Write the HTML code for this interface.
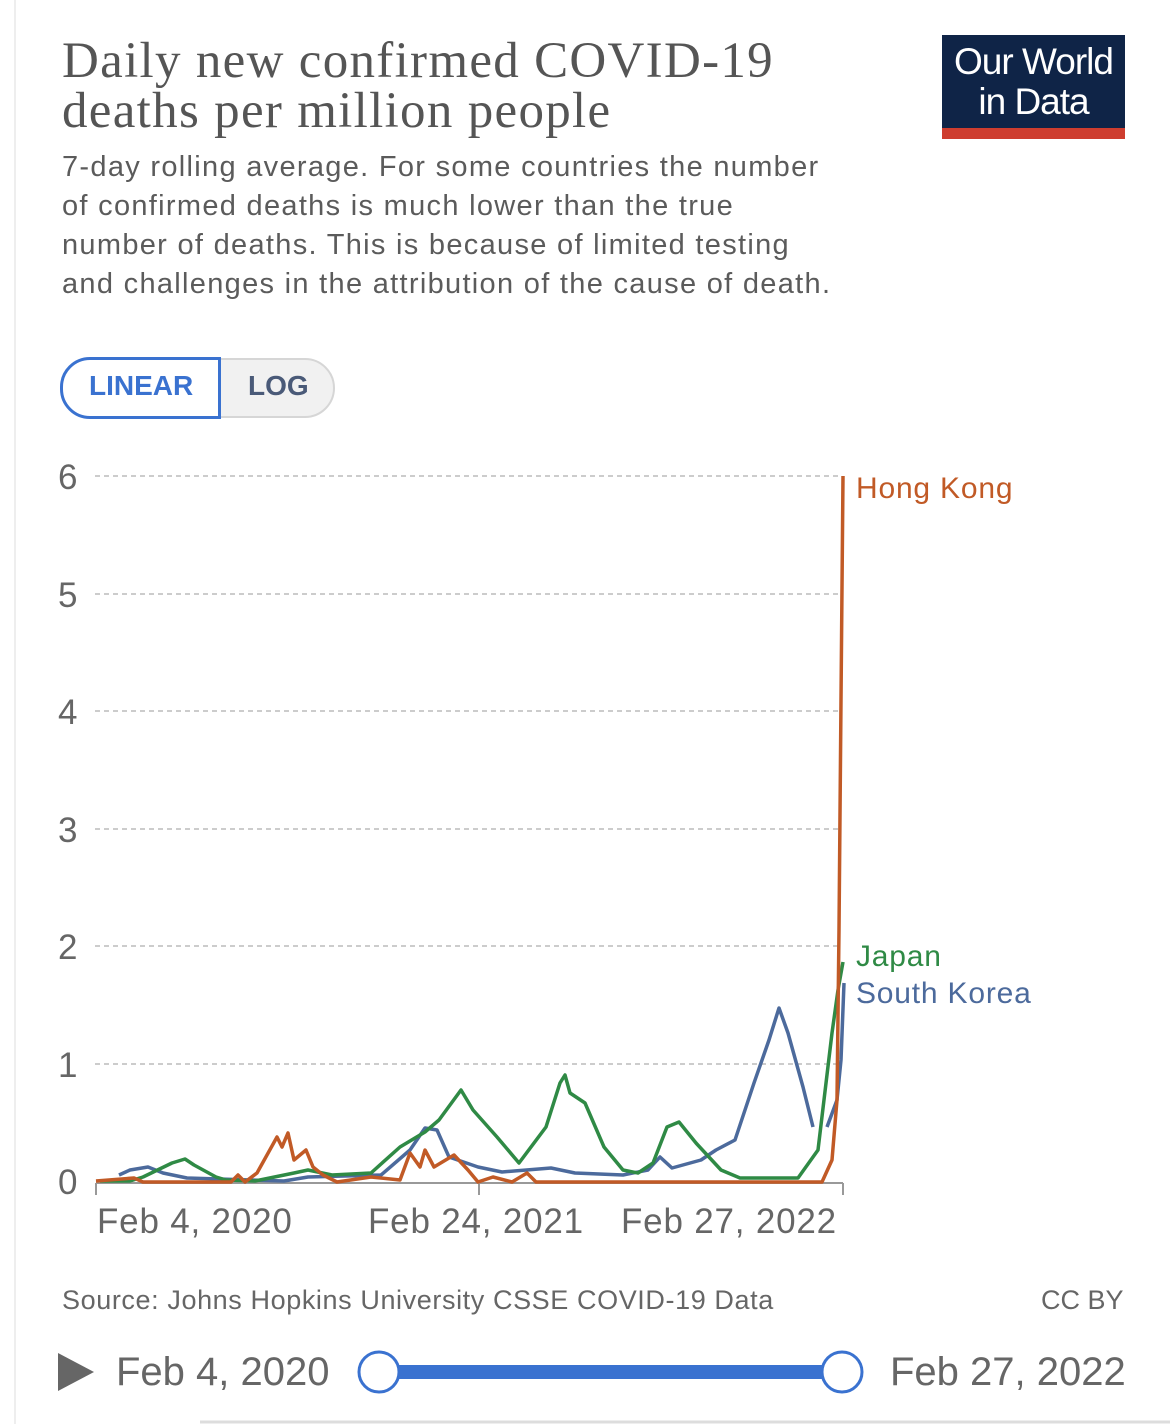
<!DOCTYPE html>
<html><head><meta charset="utf-8"><style>
body{margin:0;width:1170px;height:1424px;background:#fff;position:relative;overflow:hidden;font-family:"Liberation Sans",sans-serif}
.a{position:absolute;white-space:nowrap}
.t{font-family:"Liberation Serif",serif;font-size:51px;color:#555;line-height:50px;left:62px;top:36px;letter-spacing:1.3px}
.s{left:62px;top:148px;font-size:29px;line-height:39px;color:#5b5b5b;letter-spacing:1.3px}
.yl{font-size:35px;color:#666;left:58px}
.xl{font-size:35px;color:#666;top:1202px;letter-spacing:0.8px}
</style></head><body>
<div class="a" style="left:14px;top:0;width:2px;height:1424px;background:#eee"></div>
<div class="a t">Daily new confirmed COVID-19<br>deaths per million people</div>
<div class="a s">7-day rolling average. For some countries the number<br>of confirmed deaths is much lower than the true<br>number of deaths. This is because of limited testing<br>and challenges in the attribution of the cause of death.</div>
<div class="a" style="left:942px;top:35px;width:183px;height:104px;background:#0f2447"></div>
<div class="a" style="left:942px;top:128px;width:183px;height:11px;background:#ce3d2f"></div>
<div class="a" style="left:942px;top:42px;width:183px;text-align:center;color:#fff;font-size:37px;line-height:40px;letter-spacing:-1px">Our World<br>in Data</div>
<div class="a" style="left:61px;top:358px;width:270px;height:56px;border:2px solid #d6d6d6;border-radius:30px;background:#f1f1f1"></div>
<div class="a" style="left:61px;top:358px;width:155px;height:56px;border:3px solid #3a72d0;border-radius:30px 0 0 30px;background:#fff;box-sizing:content-box;margin:-1px 0 0 -1px"></div>
<div class="a" style="left:89px;top:370px;font-size:28px;font-weight:bold;color:#3a72d0">LINEAR</div>
<div class="a" style="left:248px;top:370px;font-size:28px;font-weight:bold;color:#4a5a78">LOG</div>
<div class="a yl" style="top:458px">6</div>
<div class="a yl" style="top:576px">5</div>
<div class="a yl" style="top:693px">4</div>
<div class="a yl" style="top:811px">3</div>
<div class="a yl" style="top:928px">2</div>
<div class="a yl" style="top:1046px">1</div>
<div class="a yl" style="top:1163px">0</div>
<div class="a xl" style="left:97px">Feb 4, 2020</div>
<div class="a xl" style="left:368px">Feb 24, 2021</div>
<div class="a xl" style="left:621px">Feb 27, 2022</div>
<svg class="a" style="left:0;top:0" width="1170" height="1424">
<g stroke="#ccc" stroke-width="2" stroke-dasharray="5,4">
<line x1="95" y1="476" x2="840" y2="476"/><line x1="95" y1="594" x2="840" y2="594"/><line x1="95" y1="711" x2="840" y2="711"/><line x1="95" y1="829" x2="840" y2="829"/><line x1="95" y1="946" x2="840" y2="946"/><line x1="95" y1="1064" x2="840" y2="1064"/></g>
<g stroke="#999" stroke-width="2" fill="none"><line x1="96" y1="1183" x2="843" y2="1183"/><line x1="96" y1="1183" x2="96" y2="1195"/><line x1="479" y1="1183" x2="479" y2="1195"/><line x1="843" y1="1183" x2="843" y2="1195"/></g>
<g fill="none" stroke-width="3.5" stroke-linejoin="round">
<polyline stroke="#4c6a9c" points="119,1175 130,1170 148,1167 163,1173 187,1178 284,1181 308,1177 381,1175 410,1150 425,1128 437,1130 449,1157 478,1167 502,1172 551,1168 575,1173 623,1175 648,1170 660,1157 672,1168 701,1160 716,1150 735,1140 754,1083 769,1040 779,1008 788,1033 803,1087 813,1127"/>
<polyline stroke="#4c6a9c" points="827,1127 837,1100 841,1060 844,983"/>
<polyline stroke="#2f8a45" points="100,1181 130,1181 143,1177 172,1163 185,1159 194,1165 216,1177 226,1180 255,1181 294,1173 308,1170 332,1175 371,1173 400,1147 425,1132 439,1120 461,1090 473,1110 497,1137 519,1163 546,1127 560,1083 565,1075 570,1093 585,1103 604,1147 623,1170 638,1173 653,1163 667,1127 679,1122 696,1143 721,1170 740,1178 798,1178 818,1150 832,1033 838,990 843,962"/>
<polyline stroke="#c15a26" points="96,1181 134,1178 143,1182 231,1182 238,1175 245,1182 257,1173 277,1137 282,1147 288,1133 294,1160 306,1150 313,1167 323,1175 337,1182 371,1177 400,1180 410,1153 420,1167 425,1150 434,1167 454,1155 468,1170 478,1182 493,1177 512,1182 527,1173 536,1182 822,1182 832,1160 837,1100 839,930 841,700 843,476"/>
</g>
<text x="856" y="498" font-size="30" fill="#c15a26" font-family="Liberation Sans" letter-spacing="0.8">Hong Kong</text>
<text x="856" y="966" font-size="30" fill="#2f8a45" font-family="Liberation Sans" letter-spacing="0.8">Japan</text>
<text x="856" y="1003" font-size="30" fill="#4c6a9c" font-family="Liberation Sans" letter-spacing="0.8">South Korea</text>
<line x1="380" y1="1372" x2="842" y2="1372" stroke="#3a72d0" stroke-width="14"/>
<circle cx="379" cy="1372" r="20" fill="#fff" stroke="#3a72d0" stroke-width="3"/>
<circle cx="842" cy="1372" r="20" fill="#fff" stroke="#3a72d0" stroke-width="3"/>
<polygon points="58,1353 94,1372 58,1391" fill="#666"/>
<line x1="200" y1="1422" x2="1170" y2="1422" stroke="#ddd" stroke-width="3"/>
</svg>
<div class="a" style="left:62px;top:1285px;font-size:27px;color:#666;letter-spacing:0.6px">Source: Johns Hopkins University CSSE COVID-19 Data</div>
<div class="a" style="left:1041px;top:1285px;font-size:27px;color:#666">CC BY</div>
<div class="a" style="left:116px;top:1350px;font-size:40px;color:#666">Feb 4, 2020</div>
<div class="a" style="left:890px;top:1350px;font-size:40px;color:#666">Feb 27, 2022</div>
</body></html>
